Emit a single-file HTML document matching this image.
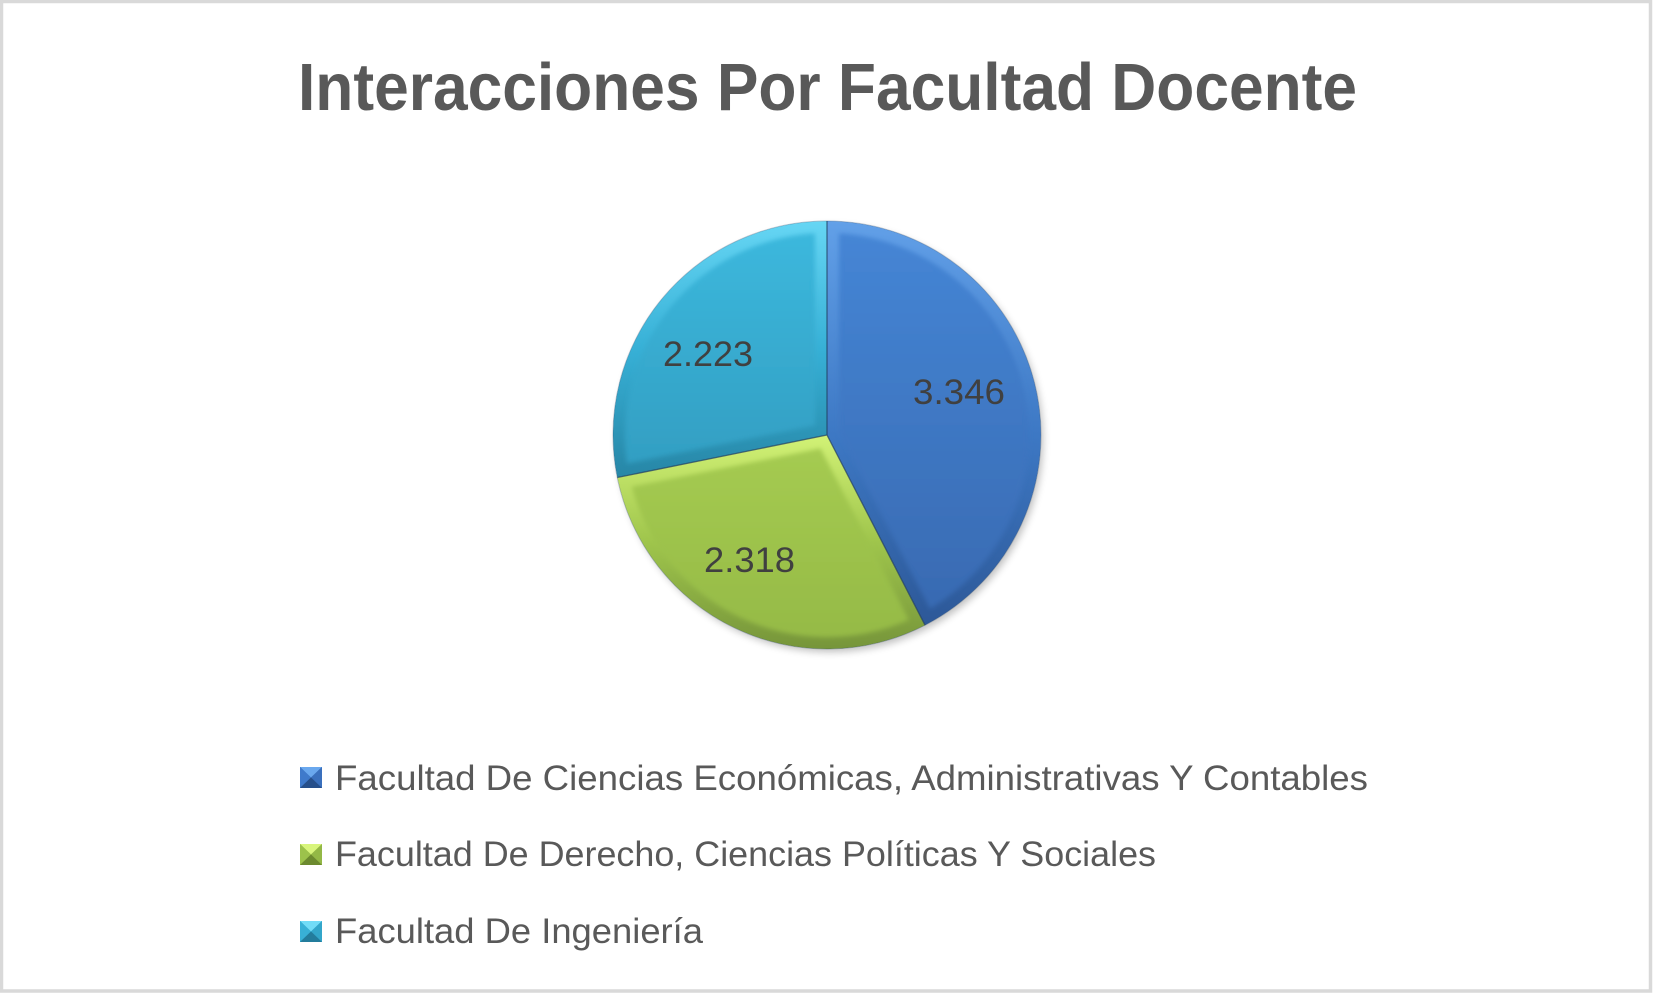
<!DOCTYPE html>
<html><head><meta charset="utf-8"><style>
html,body{margin:0;padding:0;background:#fff;}
svg{display:block;}
</style></head><body>
<svg width="1653" height="993" viewBox="0 0 1653 993" xmlns="http://www.w3.org/2000/svg">
<defs>
<linearGradient id="bB" x1="0" y1="221" x2="0" y2="649" gradientUnits="userSpaceOnUse"><stop offset="0" stop-color="#62a0e8"/><stop offset="0.5" stop-color="#3d78c4"/><stop offset="1" stop-color="#2b5492"/></linearGradient>
<linearGradient id="fB" x1="0" y1="221" x2="0" y2="649" gradientUnits="userSpaceOnUse"><stop offset="0" stop-color="#4586d6"/><stop offset="1" stop-color="#3767ae"/></linearGradient>
<linearGradient id="bG" x1="0" y1="435" x2="0" y2="649" gradientUnits="userSpaceOnUse"><stop offset="0" stop-color="#d2f276"/><stop offset="0.5" stop-color="#9fc54c"/><stop offset="1" stop-color="#76953a"/></linearGradient>
<linearGradient id="fG" x1="0" y1="435" x2="0" y2="649" gradientUnits="userSpaceOnUse"><stop offset="0" stop-color="#a6cc52"/><stop offset="1" stop-color="#94b945"/></linearGradient>
<linearGradient id="bC" x1="0" y1="221" x2="0" y2="478" gradientUnits="userSpaceOnUse"><stop offset="0" stop-color="#66d6f4"/><stop offset="0.5" stop-color="#37b0d6"/><stop offset="1" stop-color="#2786a6"/></linearGradient>
<linearGradient id="fC" x1="0" y1="221" x2="0" y2="478" gradientUnits="userSpaceOnUse"><stop offset="0" stop-color="#3cb9de"/><stop offset="1" stop-color="#329dc1"/></linearGradient>
<filter id="sh" x="-20%" y="-20%" width="140%" height="140%"><feGaussianBlur stdDeviation="4"/></filter>
<filter id="bl" x="-10%" y="-10%" width="120%" height="120%"><feGaussianBlur stdDeviation="2.5"/></filter>
<clipPath id="cB"><path d="M827,435 L827,221 A214,214 0 0 1 925.05,625.2 Z"/></clipPath>
<clipPath id="cG"><path d="M827,435 L925.05,625.2 A214,214 0 0 1 617.27,477.55 Z"/></clipPath>
<clipPath id="cC"><path d="M827,435 L617.27,477.55 A214,214 0 0 1 827,221 Z"/></clipPath>
</defs>
<rect x="1.5" y="1.5" width="1649" height="989.5" fill="#fff" stroke="#d9d9d9" stroke-width="3.5"/>
<text x="298" y="110" font-family="Liberation Sans, Arial, sans-serif" font-weight="bold" font-size="67" fill="#595959" textLength="1059" lengthAdjust="spacingAndGlyphs">Interacciones Por Facultad Docente</text>

<circle cx="830" cy="439" r="213" fill="#000" opacity="0.25" filter="url(#sh)"/>

<!-- Blue -->
<g clip-path="url(#cB)">
<path d="M827,435 L827,221 A214,214 0 0 1 925.05,625.2 Z" fill="url(#bB)"/>
<path d="M839,432.09 L839,233.36 A202,202 0 0 1 930.06,608.72 Z" fill="url(#fB)" filter="url(#bl)"/>
</g>
<!-- Green -->
<g clip-path="url(#cG)">
<path d="M827,435 L925.05,625.2 A214,214 0 0 1 617.27,477.55 Z" fill="url(#bG)"/>
<path d="M820.49,448.56 L908.72,619.72 A202,202 0 0 1 631.78,486.86 Z" fill="url(#fG)" filter="url(#bl)"/>
</g>
<!-- Cyan -->
<g clip-path="url(#cC)">
<path d="M827,435 L617.27,477.55 A214,214 0 0 1 827,221 Z" fill="url(#bC)"/>
<path d="M815,425.19 L627,463.34 A202,202 0 0 1 815,233.36 Z" fill="url(#fC)" filter="url(#bl)"/>
</g>
<!-- separators -->
<path d="M827,221 L827,435 L925.05,625.2 M827,435 L617.27,477.55" stroke="#1f3d5c" stroke-width="1.3" fill="none" opacity="0.7"/>
<circle cx="827" cy="435" r="214" fill="none" stroke="#2b4a6b" stroke-width="1" opacity="0.3"/>

<g font-family="Liberation Sans, Arial, sans-serif" font-size="35" fill="#404040">
<text x="913" y="404" textLength="92" lengthAdjust="spacingAndGlyphs">3.346</text>
<text x="663" y="366" textLength="90" lengthAdjust="spacingAndGlyphs">2.223</text>
<text x="704" y="572" textLength="91" lengthAdjust="spacingAndGlyphs">2.318</text>
</g>

<!-- Legend markers -->
<g>
<rect x="300" y="767" width="22" height="21" fill="#3566ad"/>
<polygon points="300,767 322,767 311,777.5" fill="#6aa8ee"/>
<polygon points="300,767 311,777.5 300,788" fill="#3f7acb"/>
<polygon points="322,767 311,777.5 322,788" fill="#3a70bd"/>
<polygon points="300,788 311,777.5 322,788" fill="#264f8a"/>

<rect x="300" y="844" width="22" height="21" fill="#8fb043"/>
<polygon points="300,844 322,844 311,854.5" fill="#d8f57c"/>
<polygon points="300,844 311,854.5 300,865" fill="#9cc24b"/>
<polygon points="322,844 311,854.5 322,865" fill="#93b846"/>
<polygon points="300,865 311,854.5 322,865" fill="#6c8a2f"/>

<rect x="300" y="921" width="22" height="21" fill="#2f97bb"/>
<polygon points="300,921 322,921 311,931.5" fill="#72dcf7"/>
<polygon points="300,921 311,931.5 300,942" fill="#38b0d6"/>
<polygon points="322,921 311,931.5 322,942" fill="#33a6ca"/>
<polygon points="300,942 311,931.5 322,942" fill="#237c9c"/>
</g>

<g font-family="Liberation Sans, Arial, sans-serif" font-size="35" fill="#595959">
<text x="335" y="790" textLength="1033" lengthAdjust="spacingAndGlyphs">Facultad De Ciencias Económicas, Administrativas Y Contables</text>
<text x="335" y="866" textLength="821" lengthAdjust="spacingAndGlyphs">Facultad De Derecho, Ciencias Políticas Y Sociales</text>
<text x="335" y="943" textLength="368" lengthAdjust="spacingAndGlyphs">Facultad De Ingeniería</text>
</g>
</svg>
</body></html>
